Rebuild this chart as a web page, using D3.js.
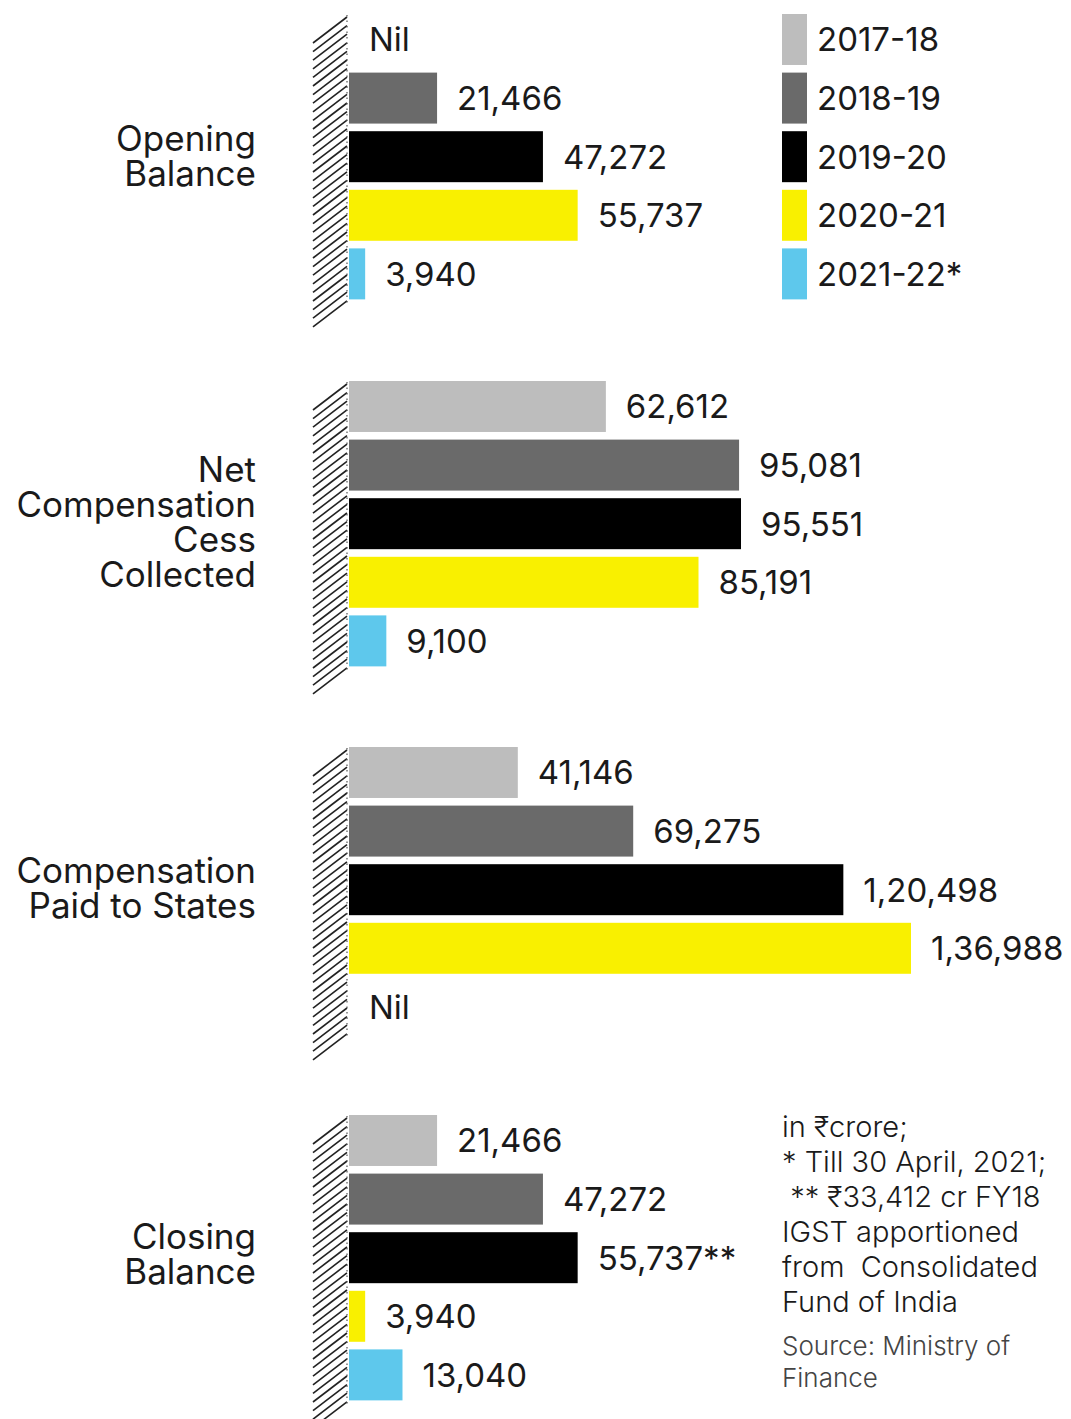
<!DOCTYPE html>
<html><head><meta charset="utf-8">
<script src="https://cdn.jsdelivr.net/npm/d3@7"></script>
<style>
body{margin:0;background:#fff;}
text{font-family:Inter,"Noto Sans",sans-serif;fill:#1a1a1a;}
</style></head>
<body><svg id="c" width="1071" height="1419"></svg>
<script>
const years = ["2017-18","2018-19","2019-20","2020-21","2021-22*"];
const colors = ["#bdbdbd","#6a6a6a","#000000","#f9f000","#5ec8ec"];
const groups = ["Opening Balance","Net Compensation Cess Collected","Compensation Paid to States","Closing Balance"];
const groupLines = [["Opening","Balance"],["Net","Compensation","Cess","Collected"],["Compensation","Paid to States"],["Closing","Balance"]];
const openingBalance = [null, 21466, 47272, 55737, 3940];
const cessCollected = [62612, 95081, 95551, 85191, 9100];
const compensationPaid = [41146, 69275, 120498, 136988, null];
const closingBalance = [21466, 47272, 55737, 3940, 13040];
const valueLabels = [
  ["Nil","21,466","47,272","55,737","3,940"],
  ["62,612","95,081","95,551","85,191","9,100"],
  ["41,146","69,275","1,20,498","1,36,988","Nil"],
  ["21,466","47,272","55,737**","3,940","13,040"]
];
const series = [openingBalance, cessCollected, compensationPaid, closingBalance];
const notes = ["in ₹crore;","* Till 30 April, 2021;"," ** ₹33,412 cr FY18","IGST apportioned","from  Consolidated","Fund of India"];
const source = ["Source: Ministry of","Finance"];

const svg = d3.select("#c");
const x = d3.scaleLinear().domain([0,136988]).range([349,911]);
const groupTops = [14,381,747,1115];
const labelShift = [-1,-2,-2,-4];
const step = 58.6, pad = 0.13;

series.forEach((vals,gi)=>{
  const top = groupTops[gi];
  const y = d3.scaleBand().domain(years).range([top, top+5*step-step*pad]).paddingInner(pad).paddingOuter(0);
  const g = svg.append("g");
  const wallTop = top+1, wallBot = top+5*step+20;
  for(let yy=wallTop+2; yy<=wallBot-26; yy+=8.6){
    g.append("line").attr("x1",347).attr("y1",yy).attr("x2",313).attr("y2",yy+26)
      .attr("stroke","#222").attr("stroke-width",1.6);
  }
  g.append("line").attr("x1",347).attr("x2",347).attr("y1",wallTop).attr("y2",wallBot-24)
    .attr("stroke","#555").attr("stroke-width",1.2).attr("stroke-dasharray","1.5,4");
  vals.forEach((v,i)=>{
    const yr = years[i];
    if(v!==null){
      g.append("rect").attr("x",x(0)).attr("y",y(yr)).attr("width",x(v)-x(0)).attr("height",y.bandwidth()).attr("fill",colors[i]);
    }
    g.append("text").attr("x",x(v||0)+20).attr("y",y(yr)+y.bandwidth()/2).attr("dy","0.36em")
      .attr("font-size",33).text(valueLabels[gi][i]);
  });
  const lines = groupLines[gi];
  const cy = top + (5*step - step*pad)/2 + labelShift[gi];
  const lh = 35;
  const t = g.append("text").attr("text-anchor","end").attr("font-size",35);
  lines.forEach((l,li)=>{
    t.append("tspan").attr("x",256)
      .attr("y",cy + (li-(lines.length-1)/2)*lh).attr("dy","0.36em").text(l);
  });
  if(gi===0){
    years.forEach((yr,i)=>{
      g.append("rect").attr("x",782).attr("y",y(yr)).attr("width",25).attr("height",y.bandwidth()).attr("fill",colors[i]);
      g.append("text").attr("x",817).attr("y",y(yr)+y.bandwidth()/2).attr("dy","0.36em").attr("font-size",33).text(yr);
    });
  }
});
const nt = svg.append("text").attr("font-size",29).attr("font-weight",300).style("white-space","pre");
notes.forEach((t,i)=>{
  nt.append("tspan").attr("x",782).attr("y",1127+i*35).attr("dy","0.36em").text(t);
});
const st = svg.append("text").attr("font-size",26).attr("font-weight",300).style("fill","#444");
source.forEach((t,i)=>{
  st.append("tspan").attr("x",782).attr("y",1346+i*32).attr("dy","0.36em").text(t);
});
</script></body></html>
